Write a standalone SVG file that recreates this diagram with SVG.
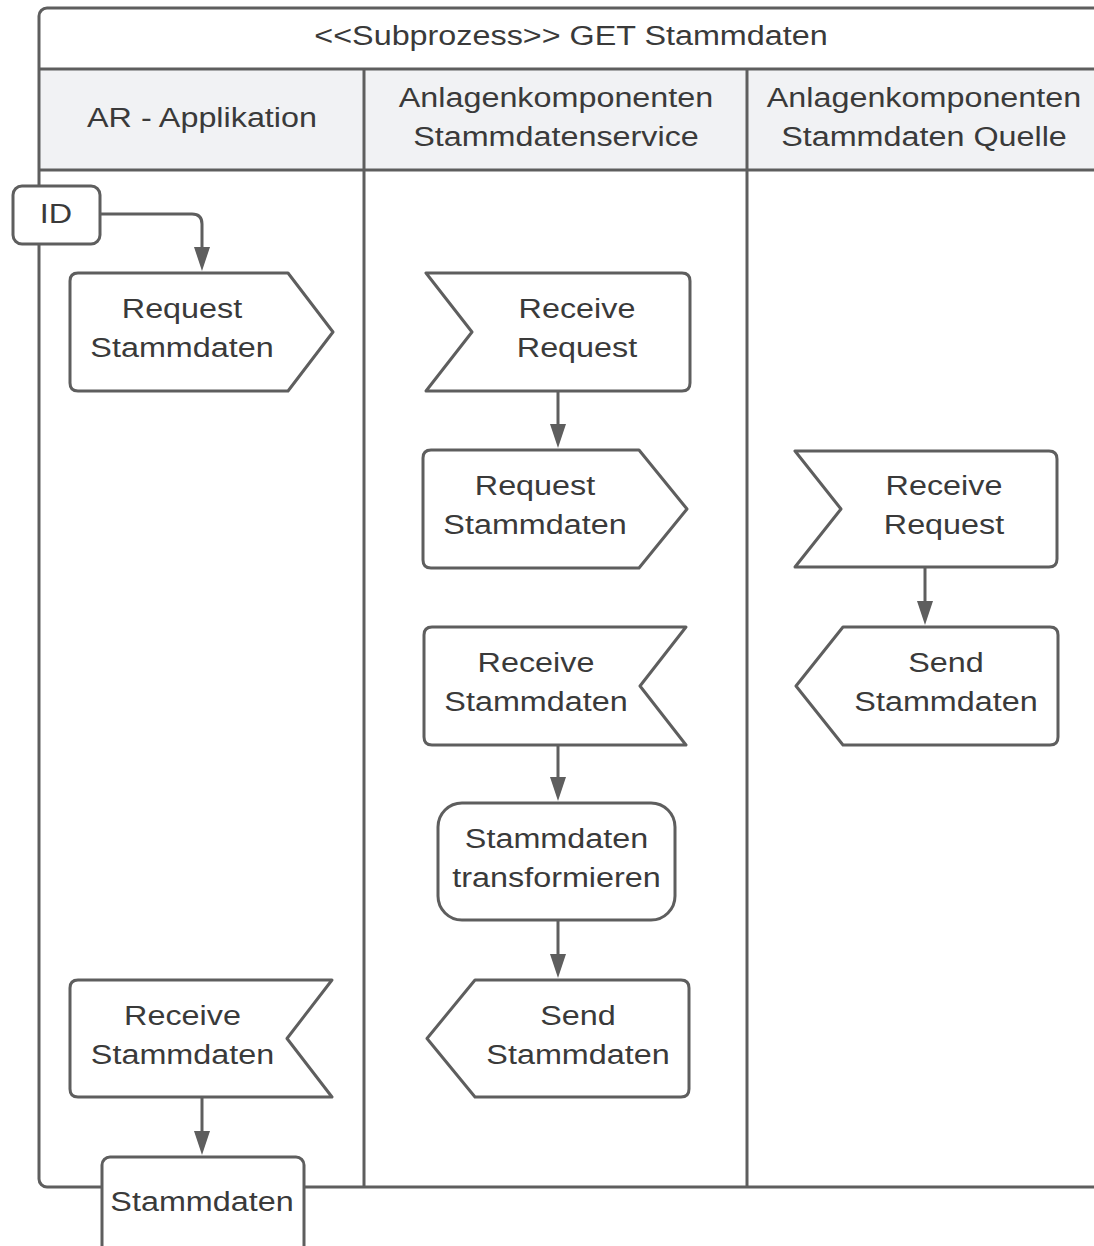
<svg xmlns="http://www.w3.org/2000/svg" width="1094" height="1246" viewBox="0 0 1094 1246">
  <style>
    .ln { fill: none; stroke: #5e5e5e; stroke-width: 3; stroke-linejoin: round; }
    .shape { fill: #ffffff; stroke: #5e5e5e; stroke-width: 3; stroke-linejoin: round; }
    .hdr { fill: #f1f2f4; stroke: none; }
    .t { font-family: "Liberation Sans", Arial, sans-serif; font-size: 28px; fill: #3a3a3a; text-anchor: middle; }
  </style>
  <defs>
    <marker id="arrow" viewBox="0 0 24 16" refX="12" refY="8" markerWidth="24" markerHeight="16" markerUnits="userSpaceOnUse" orient="auto">
      <path d="M0,0 L24,8 L0,16 Z" fill="#5e5e5e"/>
    </marker>
  </defs>

  <rect width="1094" height="1246" fill="#ffffff"/>

  <!-- Pool frame with title row and lane headers -->
  <g id="pool">
    <rect class="hdr" x="39" y="69" width="1064" height="101"/>
    <rect class="ln" x="39" y="8" width="1064" height="1179" rx="8"/>
    <line class="ln" x1="39" y1="69" x2="1103" y2="69"/>
    <line class="ln" x1="39" y1="170" x2="1103" y2="170"/>
    <line class="ln" x1="364" y1="69" x2="364" y2="1187"/>
    <line class="ln" x1="747" y1="69" x2="747" y2="1187"/>
    <text class="t" transform="matrix(1.155 0 0 1 571 0)" x="0" y="45">&lt;&lt;Subprozess&gt;&gt; GET Stammdaten</text>
  </g>

  <g id="lane-ar">
    <text class="t" transform="matrix(1.155 0 0 1 202 0)" x="0" y="127">AR - Applikation</text>
  </g>
  <g id="lane-service">
    <text class="t" transform="matrix(1.155 0 0 1 556 0)" x="0" y="107">Anlagenkomponenten</text>
    <text class="t" transform="matrix(1.155 0 0 1 556 0)" x="0" y="146">Stammdatenservice</text>
  </g>
  <g id="lane-source">
    <text class="t" transform="matrix(1.155 0 0 1 924 0)" x="0" y="107">Anlagenkomponenten</text>
    <text class="t" transform="matrix(1.155 0 0 1 924 0)" x="0" y="146">Stammdaten Quelle</text>
  </g>

  <!-- Connectors -->
  <g id="connectors">
    <path class="ln" d="M100,214 H192 Q202,214 202,224 V259" marker-end="url(#arrow)"/>
    <path class="ln" d="M558,391 V436" marker-end="url(#arrow)"/>
    <path class="ln" d="M558,745 V789" marker-end="url(#arrow)"/>
    <path class="ln" d="M558,920 V966" marker-end="url(#arrow)"/>
    <path class="ln" d="M925,567 V613" marker-end="url(#arrow)"/>
    <path class="ln" d="M202,1097 V1143" marker-end="url(#arrow)"/>
  </g>

  <!-- Nodes: AR - Applikation -->
  <g id="id-input">
    <rect class="shape" x="13" y="186" width="87" height="58" rx="9"/>
    <text class="t" transform="matrix(1.155 0 0 1 56 0)" x="0" y="223">ID</text>
  </g>
  <g id="ar-request-stammdaten">
    <path class="shape" d="M78,273 H288 L333,332 L288,391 H78 Q70,391 70,383 V281 Q70,273 78,273 Z"/>
    <text class="t" transform="matrix(1.155 0 0 1 182 0)" x="0" y="318">Request</text>
    <text class="t" transform="matrix(1.155 0 0 1 182 0)" x="0" y="357">Stammdaten</text>
  </g>
  <g id="ar-receive-stammdaten">
    <path class="shape" d="M78,980 H332 L287,1038.5 L332,1097 H78 Q70,1097 70,1089 V988 Q70,980 78,980 Z"/>
    <text class="t" transform="matrix(1.155 0 0 1 182.5 0)" x="0" y="1025">Receive</text>
    <text class="t" transform="matrix(1.155 0 0 1 182.5 0)" x="0" y="1064">Stammdaten</text>
  </g>
  <g id="ar-stammdaten-output">
    <rect class="shape" x="102" y="1157" width="202" height="120" rx="8"/>
    <text class="t" transform="matrix(1.155 0 0 1 202 0)" x="0" y="1211">Stammdaten</text>
  </g>

  <!-- Nodes: Stammdatenservice -->
  <g id="svc-receive-request">
    <path class="shape" d="M426,273 H682 Q690,273 690,281 V383 Q690,391 682,391 H426 L472,332 Z"/>
    <text class="t" transform="matrix(1.155 0 0 1 577 0)" x="0" y="318">Receive</text>
    <text class="t" transform="matrix(1.155 0 0 1 577 0)" x="0" y="357">Request</text>
  </g>
  <g id="svc-request-stammdaten">
    <path class="shape" d="M431,450 H639 L687,509 L639,568 H431 Q423,568 423,560 V458 Q423,450 431,450 Z"/>
    <text class="t" transform="matrix(1.155 0 0 1 535 0)" x="0" y="495">Request</text>
    <text class="t" transform="matrix(1.155 0 0 1 535 0)" x="0" y="534">Stammdaten</text>
  </g>
  <g id="svc-receive-stammdaten">
    <path class="shape" d="M432,627 H686 L640,686 L686,745 H432 Q424,745 424,737 V635 Q424,627 432,627 Z"/>
    <text class="t" transform="matrix(1.155 0 0 1 536 0)" x="0" y="672">Receive</text>
    <text class="t" transform="matrix(1.155 0 0 1 536 0)" x="0" y="711">Stammdaten</text>
  </g>
  <g id="svc-transform">
    <rect class="shape" x="438" y="803" width="237" height="117" rx="24"/>
    <text class="t" transform="matrix(1.155 0 0 1 556.5 0)" x="0" y="848">Stammdaten</text>
    <text class="t" transform="matrix(1.155 0 0 1 556.5 0)" x="0" y="887">transformieren</text>
  </g>
  <g id="svc-send-stammdaten">
    <path class="shape" d="M475,980 H681 Q689,980 689,988 V1089 Q689,1097 681,1097 H475 L427,1038.5 Z"/>
    <text class="t" transform="matrix(1.155 0 0 1 578 0)" x="0" y="1025">Send</text>
    <text class="t" transform="matrix(1.155 0 0 1 578 0)" x="0" y="1064">Stammdaten</text>
  </g>

  <!-- Nodes: Stammdaten Quelle -->
  <g id="src-receive-request">
    <path class="shape" d="M795,451 H1049 Q1057,451 1057,459 V559 Q1057,567 1049,567 H795 L841,509 Z"/>
    <text class="t" transform="matrix(1.155 0 0 1 944 0)" x="0" y="495">Receive</text>
    <text class="t" transform="matrix(1.155 0 0 1 944 0)" x="0" y="534">Request</text>
  </g>
  <g id="src-send-stammdaten">
    <path class="shape" d="M843,627 H1050 Q1058,627 1058,635 V737 Q1058,745 1050,745 H843 L796,686 Z"/>
    <text class="t" transform="matrix(1.155 0 0 1 946 0)" x="0" y="672">Send</text>
    <text class="t" transform="matrix(1.155 0 0 1 946 0)" x="0" y="711">Stammdaten</text>
  </g>
</svg>
